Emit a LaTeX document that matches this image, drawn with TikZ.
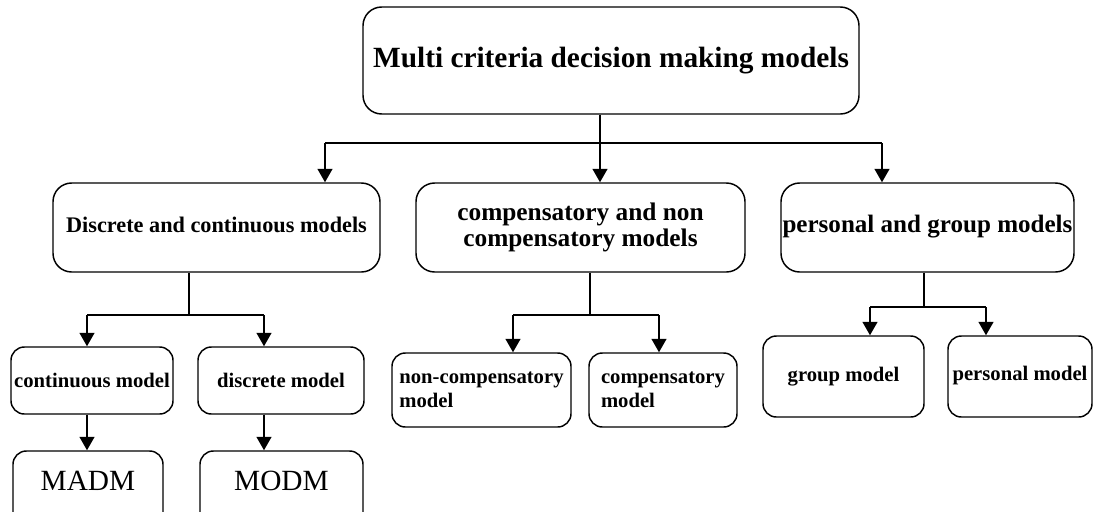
\documentclass[tikz,border=0pt]{standalone}
\usepackage{fontspec}
\setmainfont{Liberation Serif}
\usetikzlibrary{arrows.meta}
\tikzset{
  box/.style={draw, line width=1.1pt, rounded corners=10pt, inner sep=0pt, font=\bfseries},
  bigbox/.style={box, rounded corners=14pt},
  sm/.style={font=\bfseries\fontsize{15.5}{18}\selectfont},
  arr/.style={line width=1.5pt, -{Triangle[length=10pt,width=11pt]}},
  ln/.style={line width=1.5pt},
}
\newcommand{\bx}[7]{% name, style, left, top, right, bottom, text
  \node[#2, minimum width={(#5-#3)*0.75pt}, minimum height={(#6-#4)*0.75pt}] (#1) at ({(#3+#5)/2},{(#4+#6)/2}) {#7};}
\begin{document}
\begin{tikzpicture}[x=0.75pt,y=-0.75pt]
\clip (0,0) rectangle (1093,511);
\fill[white] (0,0) rectangle (1093,511);
\bx{top}{bigbox, font=\bfseries\fontsize{22}{26}\selectfont}{363}{7}{859}{114}{\raisebox{3pt}{Multi criteria decision making models}}
\bx{dc}{bigbox, font=\bfseries\fontsize{16.7}{20}\selectfont}{53}{183}{380}{272}{\raisebox{4pt}{Discrete and continuous models}}
\bx{cn}{bigbox, font=\bfseries\fontsize{19}{20}\selectfont, align=center}{416}{183}{745}{272}{compensatory and non\\compensatory models}
\bx{pg}{bigbox, font=\bfseries\fontsize{18.8}{22}\selectfont}{781}{183}{1074}{272}{\raisebox{5pt}{personal and group models}}
\bx{cm}{box, sm}{11}{347}{173}{414}{continuous model}
\bx{dm}{box, sm}{198}{347}{364}{414}{\raisebox{1pt}{discrete model}}
\bx{ncm}{box, sm, align=left}{392}{353}{571}{427}{non-compensatory\\model}
\bx{com}{box, sm, align=left}{589}{353}{737}{427}{compensatory\\model}
\bx{gm}{box, sm}{763}{336}{924}{417}{group model}
\bx{pm}{box, sm}{948}{336}{1092}{417}{\raisebox{5pt}{personal model}}
\bx{madm}{box, font=\fontsize{22}{26}\selectfont}{13}{451}{163}{535}{\raisebox{18pt}{MADM}}
\bx{modm}{box, font=\fontsize{22}{26}\selectfont}{200}{451}{363}{535}{\raisebox{18pt}{MODM}}
% top level connectors
\coordinate (h0) at (600,143);
\coordinate (hl) at (325,143);
\coordinate (hr) at (882,143);
\draw[ln] (top.south -| h0) -- (h0);
\draw[ln] (hl) -- (hr);
\draw[arr] (h0) -- (h0 |- cn.north);
\draw[arr] (hl) -- (hl |- dc.north);
\draw[arr] (hr) -- (hr |- pg.north);
% discrete/continuous
\coordinate (a0) at (189,315);
\coordinate (a1) at (87,315);
\coordinate (a2) at (264,315);
\draw[ln] (dc.south -| a0) -- (a0);
\draw[ln] (a1) -- (a2);
\draw[arr] (a1) -- (a1 |- cm.north);
\draw[arr] (a2) -- (a2 |- dm.north);
\draw[arr] (cm.south -| a1) -- (a1 |- madm.north);
\draw[arr] (dm.south -| a2) -- (a2 |- modm.north);
% compensatory
\coordinate (b0) at (590,315);
\coordinate (b1) at (513,315);
\coordinate (b2) at (659,315);
\draw[ln] (cn.south -| b0) -- (b0);
\draw[ln] (b1) -- (b2);
\draw[arr] (b1) -- (b1 |- ncm.north);
\draw[arr] (b2) -- (b2 |- com.north);
% personal/group
\coordinate (c0) at (924,307);
\coordinate (c1) at (870,307);
\coordinate (c2) at (986,307);
\draw[ln] (pg.south -| c0) -- (c0);
\draw[ln] (c1) -- (c2);
\draw[arr] (c1) -- (c1 |- gm.north);
\draw[arr] (c2) -- (c2 |- pm.north);
\end{tikzpicture}
\end{document}
